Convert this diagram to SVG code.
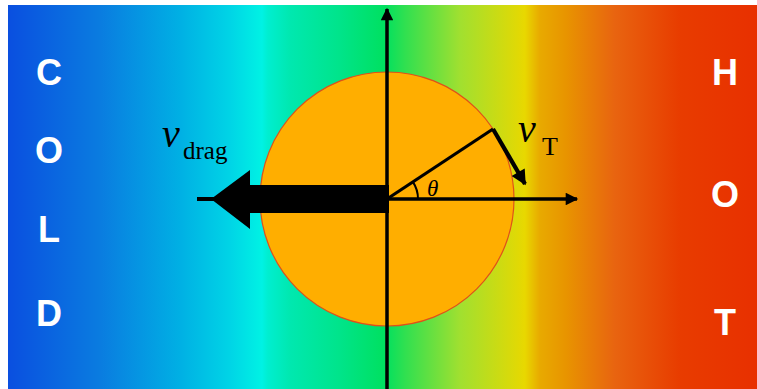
<svg xmlns="http://www.w3.org/2000/svg" width="757" height="389" viewBox="0 0 757 389">
  <defs>
    <linearGradient id="temp" gradientUnits="userSpaceOnUse" x1="8" y1="0" x2="757" y2="0">
      <stop offset="0" stop-color="#0a4fe0"/>
      <stop offset="0.123" stop-color="#0a7ce0"/>
      <stop offset="0.23" stop-color="#00b0e4"/>
      <stop offset="0.296" stop-color="#00d4e6"/>
      <stop offset="0.339" stop-color="#00f2e4"/>
      <stop offset="0.347" stop-color="#00eed0"/>
      <stop offset="0.376" stop-color="#00e8b0"/>
      <stop offset="0.443" stop-color="#00e48a"/>
      <stop offset="0.503" stop-color="#00e060"/>
      <stop offset="0.53" stop-color="#30e050"/>
      <stop offset="0.603" stop-color="#a0e030"/>
      <stop offset="0.69" stop-color="#e8d800"/>
      <stop offset="0.71" stop-color="#e8aa00"/>
      <stop offset="0.745" stop-color="#e89400"/>
      <stop offset="0.81" stop-color="#e86410"/>
      <stop offset="0.897" stop-color="#e83c00"/>
      <stop offset="1" stop-color="#e83000"/>
    </linearGradient>
    <marker id="head" viewBox="0 0 10 10" refX="9" refY="5" markerWidth="5" markerHeight="3.6" orient="auto" markerUnits="strokeWidth">
      <path d="M0,0 L10,5 L0,10 Z" fill="#000"/>
    </marker>
  </defs>
  <style>
    .side { font-family: "Liberation Sans", Arial, sans-serif; font-weight: bold; font-size: 36px; fill: #ffffff; text-anchor: middle; }
    .var { font-family: "Liberation Serif", "Times New Roman", serif; font-style: italic; fill: #000; }
    .sub { font-family: "Liberation Serif", "Times New Roman", serif; fill: #000; }
    .ax { stroke: #000; stroke-width: 3.5; fill: none; }
  </style>
  <rect width="757" height="389" fill="#ffffff"/>
  <rect id="background" x="8" y="5" width="749" height="384" fill="url(#temp)"/>

  <g id="cold">
    <text class="side" x="49" y="85">C</text>
    <text class="side" x="49" y="163">O</text>
    <text class="side" x="49" y="242">L</text>
    <text class="side" x="49" y="326">D</text>
  </g>
  <g id="hot">
    <text class="side" x="725" y="85">H</text>
    <text class="side" x="725" y="207">O</text>
    <text class="side" x="725" y="335">T</text>
  </g>

  <g id="particle">
    <circle cx="387" cy="199" r="127" fill="#ffae00" stroke="#e0501a" stroke-width="1.2"/>
  </g>

  <g id="connectors">
    <line id="y-axis" class="ax" x1="387" y1="389" x2="387" y2="9" marker-end="url(#head)"/>
    <line id="x-axis" class="ax" x1="387" y1="199" x2="577" y2="199" marker-end="url(#head)"/>
    <line id="radius" x1="387" y1="199" x2="493" y2="129" stroke="#000" stroke-width="3.2"/>
    <line id="vt-arrow" x1="493" y1="129" x2="525" y2="184" stroke="#000" stroke-width="4.2" marker-end="url(#head)"/>
    <path id="theta-arc" d="M418,199 A31,31 0 0 0 412.9,181.9" fill="none" stroke="#000" stroke-width="2"/>
    <g id="drag-arrow">
      <line x1="197" y1="199" x2="215" y2="199" stroke="#000" stroke-width="4"/>
      <path d="M389,185 L250,185 L250,170 L211,199 L250,229 L250,213 L389,213 Z" fill="#000"/>
    </g>
  </g>

  <g id="label-vdrag">
    <text class="var" x="162" y="147" font-size="40">v</text>
    <text class="sub" x="183" y="159" font-size="25">drag</text>
  </g>
  <g id="label-vt">
    <text class="var" x="518" y="142" font-size="40">v</text>
    <text class="sub" x="542" y="155" font-size="26">T</text>
  </g>
  <g id="label-theta">
    <text class="var" x="427" y="196" font-size="23">θ</text>
  </g>
</svg>
